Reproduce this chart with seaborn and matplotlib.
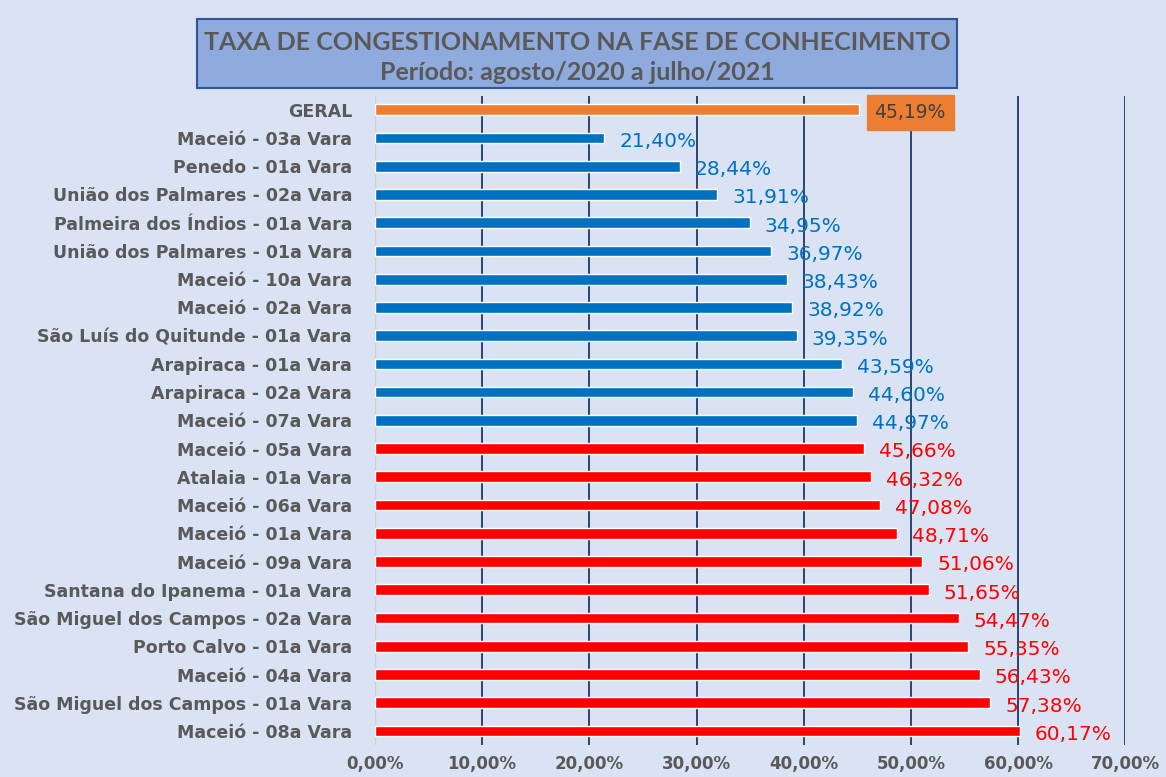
import numpy as np
import pandas as pd
import matplotlib.pyplot as plt
import seaborn as sns
from matplotlib.patches import Rectangle

varas = ["GERAL", "Maceió - 03a Vara", "Penedo - 01a Vara", "União dos Palmares - 02a Vara",
         "Palmeira dos Índios - 01a Vara", "União dos Palmares - 01a Vara", "Maceió - 10a Vara",
         "Maceió - 02a Vara", "São Luís do Quitunde - 01a Vara", "Arapiraca - 01a Vara",
         "Arapiraca - 02a Vara", "Maceió - 07a Vara", "Maceió - 05a Vara", "Atalaia - 01a Vara",
         "Maceió - 06a Vara", "Maceió - 01a Vara", "Maceió - 09a Vara",
         "Santana do Ipanema - 01a Vara", "São Miguel dos Campos - 02a Vara",
         "Porto Calvo - 01a Vara", "Maceió - 04a Vara", "São Miguel dos Campos - 01a Vara",
         "Maceió - 08a Vara"]
taxa = [45.19, 21.40, 28.44, 31.91, 34.95, 36.97, 38.43, 38.92, 39.35, 43.59, 44.60, 44.97,
        45.66, 46.32, 47.08, 48.71, 51.06, 51.65, 54.47, 55.35, 56.43, 57.38, 60.17]
ticks = [0, 10, 20, 30, 40, 50, 60, 70]

media = taxa[0]
grupo = ["geral"] + ["abaixo" if v < media else "acima" for v in taxa[1:]]
cores = {"geral": "#ED7D31", "abaixo": "#0070C0", "acima": "#FF0000"}

df = pd.DataFrame({"vara": varas, "taxa": taxa, "grupo": grupo})

fundo = "#DAE3F3"
cinza = "#595959"

sns.set_theme(style="white")
plt.rcParams["font.family"] = ["DejaVu Sans"]

fig = plt.figure(figsize=(11.66, 7.77), dpi=100, facecolor=fundo)
ax = fig.add_axes([0.3216, 0.041, 0.6435, 0.836])
ax.set_facecolor(fundo)

sns.barplot(data=df, x="taxa", y="vara", hue="grupo", palette=cores, dodge=False,
            width=0.38, saturation=1, legend=False, ax=ax, zorder=3)

ax.set_xlim(0, 70)
ax.set_ylim(len(varas) - 0.5, -0.5)
ax.set_xticks(ticks)
ax.set_xticklabels([f"{t:.2f}%".replace(".", ",") for t in ticks],
                   fontsize=12, fontweight="bold", color=cinza)
ax.tick_params(axis="x", length=0, pad=7)
ax.tick_params(axis="y", length=0, pad=16.5)
for lab in ax.get_yticklabels():
    lab.set_fontsize(12.5)
    lab.set_fontweight("bold")
    lab.set_color(cinza)
ax.set_xlabel("")
ax.set_ylabel("")
for t in ticks[1:]:
    ax.axvline(t, color="#1F3864", lw=1.3, zorder=1)
ax.axvline(0, color="#D0D0D0", lw=1, zorder=1)
for s in ax.spines.values():
    s.set_visible(False)

for i, (v, g) in enumerate(zip(taxa, grupo)):
    txt = f"{v:.2f}%".replace(".", ",")
    if g == "geral":
        ax.text(v + 1.4, i + 0.1, txt, va="center", ha="left", fontsize=13.5, color="#404040",
                zorder=5, bbox=dict(boxstyle="square,pad=0.42", fc="#ED7D31", ec="#ED7D31"))
    else:
        ax.text(v + 1.4, i + 0.12, txt, va="center", ha="left", fontsize=14.5,
                color=cores[g], zorder=5)

# caixa do titulo
fig.patches.append(Rectangle((0.169, 0.887), 0.652, 0.088, transform=fig.transFigure,
                             fc="#8FAADC", ec="#2F5597", lw=1.5))
fig.text(0.495, 0.945, "TAXA DE CONGESTIONAMENTO NA FASE DE CONHECIMENTO",
         ha="center", va="center", fontsize=18, fontweight="bold", color=cinza,
         family=["Lato", "DejaVu Sans"])
fig.text(0.495, 0.907, "Período: agosto/2020 a julho/2021",
         ha="center", va="center", fontsize=18, fontweight="bold", color=cinza,
         family=["Lato", "DejaVu Sans"])

fig.savefig("out.png", dpi=100, facecolor=fundo)
